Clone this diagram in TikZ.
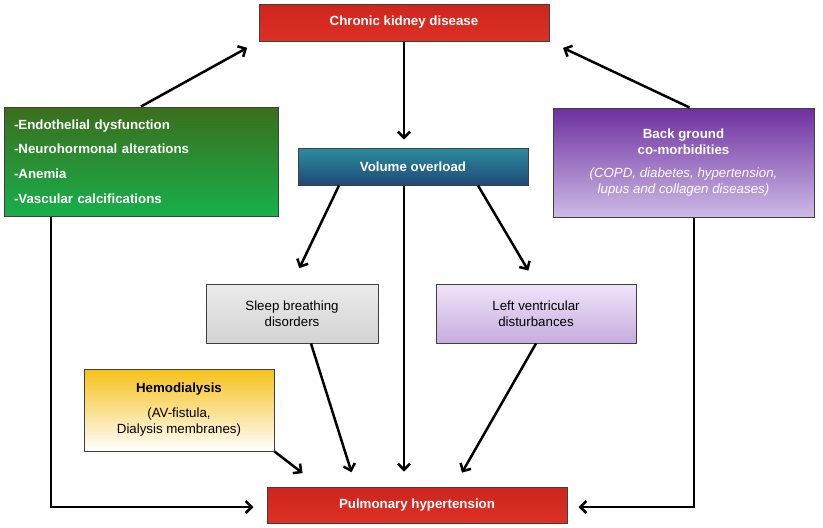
\documentclass[tikz,border=0pt]{standalone}
\usepackage{fontspec}
\setmainfont{Liberation Sans}
\usetikzlibrary{arrows.meta}

\definecolor{ckdtop}{HTML}{CF241C}\definecolor{ckdbot}{HTML}{DD3126}
\definecolor{voltop}{HTML}{2C8C9E}\definecolor{volbot}{HTML}{1F4A78}
\definecolor{factop}{HTML}{3B6E1C}\definecolor{facbot}{HTML}{17B04C}
\definecolor{bgtop}{HTML}{6E2FA0}\definecolor{bgbot}{HTML}{CDBBE6}
\definecolor{sltop}{HTML}{EBEBEB}\definecolor{slbot}{HTML}{D3D3D3}
\definecolor{lvtop}{HTML}{F0E4F8}\definecolor{lvbot}{HTML}{C6ACE0}
\definecolor{hdtop}{HTML}{F5C11A}

\begin{document}
\begin{tikzpicture}[x=1pt,y=-1pt,font=\fontsize{13.3}{16}\selectfont,
  box/.style={draw=black!75,line width=1pt,align=center,inner sep=0pt},
  hl/.style={text=white,font=\fontsize{13.3}{16}\selectfont\bfseries},
  arr/.style={line width=2.5pt,-{Straight Barb[length=6pt,width=12pt]}}]
\useasboundingbox[fill=white] (0,0) rectangle (823,528);
\node[box,hl,minimum width=290pt,minimum height=37pt,top color=ckdtop,bottom color=ckdbot] (ckd) at (404,22.5) {Chronic kidney disease};
\node[box,hl,minimum width=230pt,minimum height=37pt,top color=voltop,bottom color=volbot] (vol) at (413,166.5) {Volume overload};
\node[box,hl,minimum width=274pt,minimum height=109pt,text width=254pt,inner xsep=10pt,align=left,
  font=\fontsize{13.3}{24.8}\selectfont\bfseries,top color=factop,bottom color=facbot] (fac) at (141,161.5)
  {-Endothelial dysfunction\\-Neurohormonal alterations\\-Anemia\\-Vascular calcifications};
\node[box,text=white,minimum width=261pt,minimum height=109pt,top color=bgtop,bottom color=bgbot] (bg) at (683.5,162.5)
  {\bfseries Back ground\\ \bfseries co-morbidities\\[7pt] \itshape (COPD, diabetes, hypertension,\\ \itshape lupus and collagen diseases)};
\node[box,minimum width=172pt,minimum height=59pt,top color=sltop,bottom color=slbot] (sleep) at (292,313.5) {Sleep breathing\\disorders};
\node[box,minimum width=200pt,minimum height=59pt,top color=lvtop,bottom color=lvbot] (lv) at (536,313.5) {Left ventricular\\disturbances};
\node[box,minimum width=190pt,minimum height=82pt,top color=hdtop,bottom color=white] (hemo) at (179,410)
  {\bfseries Hemodialysis\\[9pt](AV-fistula,\\Dialysis membranes)};
\node[box,hl,minimum width=300pt,minimum height=36pt,top color=ckdtop,bottom color=ckdbot] (ph) at (417,505) {Pulmonary hypertension};

\draw[arr,shorten >=8pt] (ckd.south) -- (ckd.south |- vol.north);
\draw[arr,shorten >=13pt] (fac.north) -- (ckd.south west);
\draw[arr,shorten >=15pt] ([xshift=6pt]bg.north) -- (ckd.south east);
\draw[arr,shorten >=17pt] ([xshift=-74pt]vol.south) -- (sleep.north);
\draw[arr,shorten >=15pt] ([xshift=65pt]vol.south) -- (lv.north);
\draw[arr,shorten >=15pt] ([xshift=-9pt]vol.south) -- ([xshift=-13pt]ph.north);
\draw[arr,shorten >=15pt] ([xshift=19pt]sleep.south) -- ([xshift=-61pt]ph.north);
\draw[arr,shorten >=16pt] (lv.south) -- ([xshift=37pt]ph.north);
\draw[arr,shorten >=22pt] (hemo.south east) -- ([xshift=-97pt]ph.north);
\draw[arr,shorten >=13pt] ([xshift=-90pt]fac.south) |- ([yshift=-2pt]ph.west);
\draw[arr,shorten >=11pt] ([xshift=10.5pt]bg.south) |- ([yshift=-2pt]ph.east);
\end{tikzpicture}
\end{document}
